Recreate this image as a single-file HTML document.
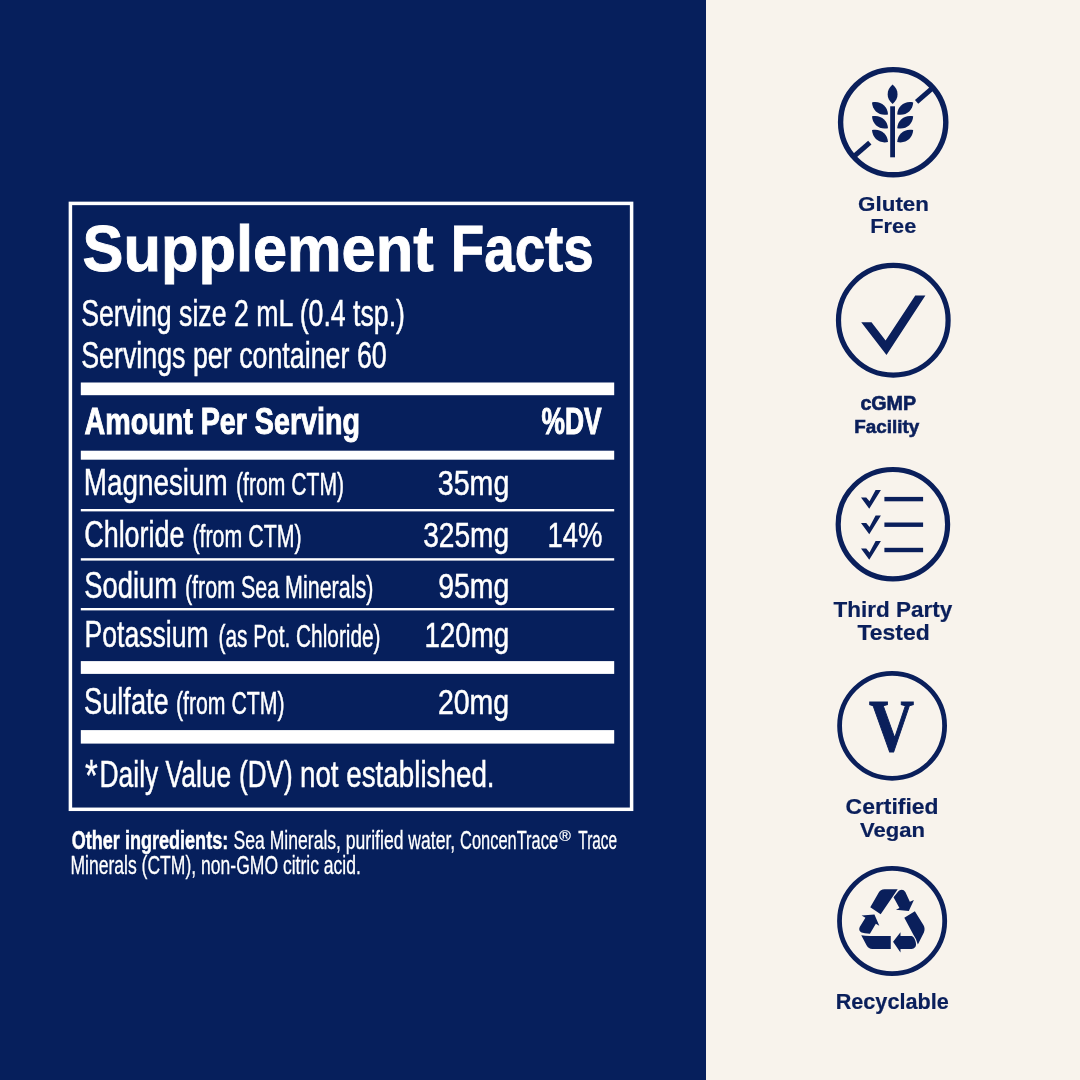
<!DOCTYPE html>
<html lang="en"><head><meta charset="utf-8"><title>Supplement Facts</title>
<style>html,body{margin:0;padding:0;background:#f8f3ec;}body{width:1080px;height:1080px;overflow:hidden;}svg{display:block;}text{font-family:"Liberation Sans",sans-serif;}.c{fill:#fff;}.b{font-weight:bold;fill:#fff;}.l{font-weight:bold;fill:#0a1f5b;}.s{font-family:"Liberation Serif",serif;font-weight:bold;fill:#0a1f5b;}</style></head><body>
<svg width="1080" height="1080" viewBox="0 0 1080 1080">
<rect x="0" y="0" width="1080" height="1080" fill="#f8f3ec"/>
<rect x="0" y="0" width="706" height="1080" fill="#061f5c"/>
<rect x="70.4" y="203.4" width="561.2" height="605.9" fill="none" stroke="#fff" stroke-width="3.5"/>
<rect x="80.8" y="382.5" width="533.4" height="12.7" fill="#fff"/>
<rect x="80.8" y="450.7" width="533.4" height="9.0" fill="#fff"/>
<rect x="80.8" y="509.0" width="533.4" height="2.4" fill="#fff"/>
<rect x="80.8" y="558.2" width="533.4" height="2.4" fill="#fff"/>
<rect x="80.8" y="608.0" width="533.4" height="2.4" fill="#fff"/>
<rect x="80.8" y="661.1" width="533.4" height="12.8" fill="#fff"/>
<rect x="80.8" y="730.1" width="533.4" height="13.5" fill="#fff"/>
<text id="t_title1" class="b" x="82.58" y="271.2" font-size="64.39" textLength="350.99" lengthAdjust="spacingAndGlyphs" stroke="#fff" stroke-width="0.9">Supplement</text>
<text id="t_title2" class="b" x="450.76" y="271.2" font-size="64.39" textLength="143.04" lengthAdjust="spacingAndGlyphs" stroke="#fff" stroke-width="0.9">Facts</text>
<text id="t_serv1" class="c" x="81.19" y="326.3" font-size="37.21" textLength="323.82" lengthAdjust="spacingAndGlyphs" stroke="#fff" stroke-width="0.5">Serving size 2 mL (0.4 tsp.)</text>
<text id="t_serv2" class="c" x="81.19" y="368.0" font-size="36.92" textLength="305.53" lengthAdjust="spacingAndGlyphs" stroke="#fff" stroke-width="0.5">Servings per container 60</text>
<text id="t_amount" class="b" x="84.62" y="433.8" font-size="36.92" textLength="275.31" lengthAdjust="spacingAndGlyphs" stroke="#fff" stroke-width="1.0">Amount Per Serving</text>
<text id="t_dv" class="b" x="541.59" y="434.0" font-size="36.92" textLength="60.12" lengthAdjust="spacingAndGlyphs" stroke="#fff" stroke-width="1.0">%DV</text>
<text id="t_mag" class="c" x="83.85" y="495.1" font-size="37.79" textLength="143.77" lengthAdjust="spacingAndGlyphs" stroke="#fff" stroke-width="0.5">Magnesium</text>
<text id="t_magp" class="c" x="236.01" y="495.1" font-size="31.40" textLength="108.04" lengthAdjust="spacingAndGlyphs" stroke="#fff" stroke-width="0.5">(from CTM)</text>
<text id="t_magm" class="c" x="437.78" y="495.1" font-size="34.88" textLength="71.52" lengthAdjust="spacingAndGlyphs" stroke="#fff" stroke-width="0.5">35mg</text>
<text id="t_chl" class="c" x="84.25" y="547.2" font-size="37.79" textLength="100.16" lengthAdjust="spacingAndGlyphs" stroke="#fff" stroke-width="0.5">Chloride</text>
<text id="t_chlp" class="c" x="192.48" y="547.2" font-size="31.40" textLength="109.09" lengthAdjust="spacingAndGlyphs" stroke="#fff" stroke-width="0.5">(from CTM)</text>
<text id="t_chlm" class="c" x="423.17" y="547.2" font-size="34.88" textLength="86.01" lengthAdjust="spacingAndGlyphs" stroke="#fff" stroke-width="0.5">325mg</text>
<text id="t_sod" class="c" x="84.25" y="598.3" font-size="37.79" textLength="92.83" lengthAdjust="spacingAndGlyphs" stroke="#fff" stroke-width="0.5">Sodium</text>
<text id="t_sodp" class="c" x="184.98" y="598.3" font-size="31.40" textLength="188.33" lengthAdjust="spacingAndGlyphs" stroke="#fff" stroke-width="0.5">(from Sea Minerals)</text>
<text id="t_sodm" class="c" x="438.22" y="598.3" font-size="34.88" textLength="71.10" lengthAdjust="spacingAndGlyphs" stroke="#fff" stroke-width="0.5">95mg</text>
<text id="t_pot" class="c" x="84.49" y="646.6" font-size="37.79" textLength="124.25" lengthAdjust="spacingAndGlyphs" stroke="#fff" stroke-width="0.5">Potassium</text>
<text id="t_potp" class="c" x="218.48" y="646.6" font-size="31.40" textLength="162.08" lengthAdjust="spacingAndGlyphs" stroke="#fff" stroke-width="0.5">(as Pot. Chloride)</text>
<text id="t_potm" class="c" x="424.40" y="646.6" font-size="34.88" textLength="84.93" lengthAdjust="spacingAndGlyphs" stroke="#fff" stroke-width="0.5">120mg</text>
<text id="t_sul" class="c" x="84.10" y="713.8" font-size="37.79" textLength="84.61" lengthAdjust="spacingAndGlyphs" stroke="#fff" stroke-width="0.5">Sulfate</text>
<text id="t_sulp" class="c" x="175.96" y="713.8" font-size="31.40" textLength="108.62" lengthAdjust="spacingAndGlyphs" stroke="#fff" stroke-width="0.5">(from CTM)</text>
<text id="t_sulm" class="c" x="437.92" y="713.8" font-size="34.88" textLength="71.32" lengthAdjust="spacingAndGlyphs" stroke="#fff" stroke-width="0.5">20mg</text>
<text id="t_pct" class="c" x="547.50" y="547.2" font-size="34.88" textLength="54.94" lengthAdjust="spacingAndGlyphs" stroke="#fff" stroke-width="0.5">14%</text>
<text id="t_star" class="c" x="85.00" y="790.5" font-size="43.60" textLength="12.77" lengthAdjust="spacingAndGlyphs" stroke="#fff" stroke-width="0.4">*</text>
<text id="t_daily" class="c" x="99.54" y="787.4" font-size="37.21" textLength="131.64" lengthAdjust="spacingAndGlyphs" stroke="#fff" stroke-width="0.5">Daily Value</text>
<text id="t_daily2" class="c" x="239.06" y="787.4" font-size="37.21" textLength="53.65" lengthAdjust="spacingAndGlyphs" stroke="#fff" stroke-width="0.5">(DV)</text>
<text id="t_daily3" class="c" x="299.93" y="787.4" font-size="37.21" textLength="194.64" lengthAdjust="spacingAndGlyphs" stroke="#fff" stroke-width="0.5">not established.</text>
<text id="t_oth1a" class="b" x="71.72" y="848.6" font-size="25.29" textLength="156.48" lengthAdjust="spacingAndGlyphs" stroke="#fff" stroke-width="0.5">Other ingredients:</text>
<text id="t_oth1b" class="c" x="233.60" y="848.6" font-size="25.29" textLength="221.56" lengthAdjust="spacingAndGlyphs" stroke="#fff" stroke-width="0.3">Sea Minerals, purified water,</text>
<text id="t_oth1c" class="c" x="460.12" y="848.6" font-size="25.29" textLength="97.91" lengthAdjust="spacingAndGlyphs" stroke="#fff" stroke-width="0.3">ConcenTrace</text>
<text class="c" x="559.2" y="841.2" font-size="14.6" textLength="11.6" lengthAdjust="spacingAndGlyphs" stroke="#fff" stroke-width="0.2">®</text>
<text id="t_oth1e" class="c" x="578.32" y="848.6" font-size="25.29" textLength="38.69" lengthAdjust="spacingAndGlyphs" stroke="#fff" stroke-width="0.3">Trace</text>
<text id="t_oth2" class="c" x="70.46" y="874.2" font-size="25.29" textLength="290.43" lengthAdjust="spacingAndGlyphs" stroke="#fff" stroke-width="0.3">Minerals (CTM), non-GMO citric acid.</text>
<circle cx="893.2" cy="122.2" r="52.60" fill="none" stroke="#0a1f5b" stroke-width="5.4"/>
<g fill="#0a1f5b">
<rect x="890.2" y="106.3" width="4.8" height="51" />
<path d="M892.60,84.50 C886.00,89.77 886.00,98.73 892.60,104.00 C899.20,98.73 899.20,89.77 892.60,84.50Z"/>
<path d="M872.00,102.50 C872.44,110.93 879.80,116.40 888.00,114.40 C887.56,105.97 880.20,100.50 872.00,102.50Z"/>
<path d="M913.20,102.50 C905.00,100.50 897.64,105.97 897.20,114.40 C905.40,116.40 912.76,110.93 913.20,102.50Z"/>
<path d="M872.00,116.30 C872.44,124.73 879.80,130.20 888.00,128.20 C887.56,119.77 880.20,114.30 872.00,116.30Z"/>
<path d="M913.20,116.30 C905.00,114.30 897.64,119.77 897.20,128.20 C905.40,130.20 912.76,124.73 913.20,116.30Z"/>
<path d="M872.00,130.10 C872.44,138.53 879.80,144.00 888.00,142.00 C887.56,133.57 880.20,128.10 872.00,130.10Z"/>
<path d="M913.20,130.10 C905.00,128.10 897.64,133.57 897.20,142.00 C905.40,144.00 912.76,138.53 913.20,130.10Z"/>
</g>
<line x1="916.60" y1="101.86" x2="932.44" y2="88.08" stroke="#0a1f5b" stroke-width="5"/>
<line x1="869.80" y1="142.54" x2="853.96" y2="156.32" stroke="#0a1f5b" stroke-width="5"/>
<text id="t_gluten" class="l" x="858.13" y="210.5" font-size="21.08" textLength="70.82" lengthAdjust="spacingAndGlyphs" stroke="#0a1f5b" stroke-width="0.2">Gluten</text>
<text id="t_free" class="l" x="870.33" y="232.9" font-size="20.93" textLength="45.92" lengthAdjust="spacingAndGlyphs" stroke="#0a1f5b" stroke-width="0.2">Free</text>
<circle cx="893.3" cy="320.25" r="54.80" fill="none" stroke="#0a1f5b" stroke-width="5.2"/>
<polygon fill="#0a1f5b" points="861.25,322.25 871.5,322.25 885.6,340.4 915.25,295.6 925.4,295.6 886.5,355"/>
<text id="t_cgmp" class="l" x="860.40" y="410" font-size="19.33" textLength="55.70" lengthAdjust="spacingAndGlyphs" stroke="#0a1f5b" stroke-width="0.6">cGMP</text>
<text id="t_facility" class="l" x="854.22" y="432.7" font-size="19.19" textLength="65.02" lengthAdjust="spacingAndGlyphs" stroke="#0a1f5b" stroke-width="0.6">Facility</text>
<circle cx="892.9" cy="524.2" r="54.70" fill="none" stroke="#0a1f5b" stroke-width="5.2"/>
<rect x="884.4" y="496.90" width="38.7" height="4.4" fill="#0a1f5b"/>
<rect x="884.4" y="522.50" width="38.7" height="4.4" fill="#0a1f5b"/>
<rect x="884.4" y="547.80" width="38.7" height="4.4" fill="#0a1f5b"/>
<polygon fill="#0a1f5b" points="861,497.50 866.25,497.50 869.5,501.30 875.6,490.00 880.9,490.00 869.25,508.75"/>
<polygon fill="#0a1f5b" points="861,523.10 866.25,523.10 869.5,526.90 875.6,515.60 880.9,515.60 869.25,534.35"/>
<polygon fill="#0a1f5b" points="861,548.60 866.25,548.60 869.5,552.40 875.6,541.10 880.9,541.10 869.25,559.85"/>
<text id="t_third" class="l" x="833.46" y="616.9" font-size="22.67" textLength="118.80" lengthAdjust="spacingAndGlyphs" stroke="#0a1f5b" stroke-width="0.2">Third Party</text>
<text id="t_tested" class="l" x="857.51" y="639.75" font-size="22.38" textLength="72.17" lengthAdjust="spacingAndGlyphs" stroke="#0a1f5b" stroke-width="0.2">Tested</text>
<circle cx="892.1" cy="725.8" r="52.50" fill="none" stroke="#0a1f5b" stroke-width="4.8"/>
<text id="t_V" class="s" x="869.00" y="750.7" font-size="73.24" textLength="45.00" lengthAdjust="spacingAndGlyphs" stroke="#0a1f5b" stroke-width="1.1">V</text>
<text id="t_cert" class="l" x="845.61" y="814.4" font-size="21.51" textLength="92.93" lengthAdjust="spacingAndGlyphs" stroke="#0a1f5b" stroke-width="0.2">Certified</text>
<text id="t_vegan" class="l" x="860.00" y="836.5" font-size="20.93" textLength="65.03" lengthAdjust="spacingAndGlyphs" stroke="#0a1f5b" stroke-width="0.2">Vegan</text>
<circle cx="892.1" cy="921" r="52.60" fill="none" stroke="#0a1f5b" stroke-width="4.8"/>
<g fill="#0a1f5b"><path d="M870.28,907.26 L878.61,892.68 Q880.35,889.42 884.51,889.21 L897.71,889.21 L880.69,914.21 Z"/><path d="M893.54,897.19 L899.44,907.96 L895.97,909.69 L908.82,911.08 L913.89,900.11 L909.86,901.78 L905.35,891.99 Q903.61,889.21 900.49,889.97 Q899.10,890.39 898.40,891.15 Z"/><path d="M904.31,917.68 L914.86,911.22 L923.40,925.11 Q925.49,928.79 923.89,932.61 L917.85,944.42 Q916.46,938.86 913.68,935.25 Z"/><path d="M893.06,941.64 L900.49,932.26 L900.49,936.08 L911.60,936.08 Q914.03,936.78 915.42,940.94 Q916.81,945.11 915.07,947.33 Q913.68,948.93 911.60,948.93 L900.49,948.93 L900.49,952.40 Z"/><path d="M890.76,936.08 L869.93,936.08 Q864.72,936.08 861.25,935.25 L866.67,945.46 Q868.54,948.93 872.36,948.93 L890.76,948.93 Z"/><path d="M874.44,914.42 L879.31,925.67 L875.83,923.65 L869.93,933.86 Q864.03,933.44 861.60,932.61 Q858.12,930.53 859.72,926.92 L865.42,917.75 L861.60,915.60 Z"/></g>
<text id="t_recy" class="l" x="835.67" y="1009.4" font-size="21.22" textLength="113.08" lengthAdjust="spacingAndGlyphs" stroke="#0a1f5b" stroke-width="0.2">Recyclable</text>
</svg></body></html>
